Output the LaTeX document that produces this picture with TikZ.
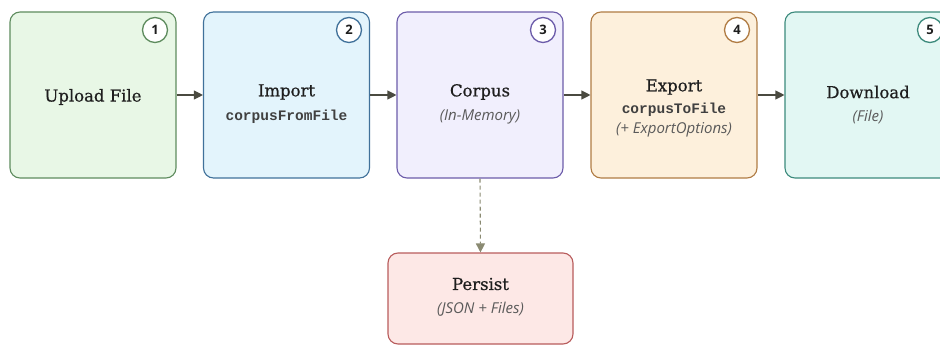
\documentclass[tikz,border=0pt]{standalone}
\usepackage{fontspec}
\setmainfont{DejaVu Serif}
\newfontfamily\titlefont[FakeBold=0.6]{DejaVu Serif}
\newfontfamily\codefont{Liberation Mono}
\newfontfamily\notefont{Open Sans}
\newfontfamily\badgefont{Open Sans}
\usetikzlibrary{arrows.meta}
\definecolor{ink}{HTML}{1E1E1E}
\definecolor{notegray}{HTML}{5A5A5A}
\definecolor{arrowgray}{HTML}{4A4A40}
\definecolor{dashgray}{HTML}{8A8A72}
\definecolor{gFill}{HTML}{E8F7E6}\definecolor{gLine}{HTML}{5E8C5E}
\definecolor{bFill}{HTML}{E3F4FC}\definecolor{bLine}{HTML}{40719A}
\definecolor{pFill}{HTML}{F1EFFD}\definecolor{pLine}{HTML}{6C5CAA}
\definecolor{oFill}{HTML}{FDF0DC}\definecolor{oLine}{HTML}{B07C44}
\definecolor{tFill}{HTML}{E2F7F3}\definecolor{tLine}{HTML}{3C8A7C}
\definecolor{rFill}{HTML}{FDE8E6}\definecolor{rLine}{HTML}{B85C5C}
\tikzset{
  x=1pt, y=-1pt,
  stage/.style={draw, line width=1.1pt, rounded corners=10pt, minimum width=166pt, minimum height=166pt, inner sep=0pt},
  badge/.style={draw, circle, fill=white, line width=1.3pt, minimum size=25pt, inner sep=0pt, font=\badgefont\bfseries\fontsize{13}{13}\selectfont, text=ink},
  title/.style={font=\titlefont\fontsize{16.5}{18}\selectfont, text=ink},
  code/.style={font=\codefont\bfseries\fontsize{14.5}{16}\selectfont, text=ink!85},
  note/.style={font=\notefont\itshape\fontsize{15}{17}\selectfont, text=notegray},
  flow/.style={draw=arrowgray, line width=1.1pt, -{Triangle[length=9pt,width=9pt]}},
  store/.style={draw=dashgray, line width=1.1pt, dashed, dash pattern=on 4pt off 3pt, -{Triangle[length=9pt,width=9pt]}}
}
\begin{document}
\begin{tikzpicture}
\useasboundingbox (0,0) rectangle (940,345);
% pipeline stages
\node[stage, fill=gFill, draw=gLine] (upload) at (93,95) {};
\node[stage, fill=bFill, draw=bLine] (import) at (286.5,95) {};
\node[stage, fill=pFill, draw=pLine] (corpus) at (480,95) {};
\node[stage, fill=oFill, draw=oLine] (export) at (674,95) {};
\node[stage, fill=tFill, draw=tLine] (download) at (868,95) {};
\node[stage, fill=rFill, draw=rLine, minimum width=185pt, minimum height=91pt] (persist) at (480.5,298.5) {};
% stage numbers
\node[badge, draw=gLine] (n1) at (155,30) {1};
\node[badge, draw=bLine] (n2) at (349,30) {2};
\node[badge, draw=pLine] (n3) at (543,30) {3};
\node[badge, draw=oLine] (n4) at (737,30) {4};
\node[badge, draw=tLine] (n5) at (930,30) {5};
% labels
\node[title] (t1) at (93,97) {Upload File};
\node[title] (t2) at (286.5,92) {Import};
\node[code] (c2) at (286.5,117) {corpusFromFile};
\node[title] (t3) at (480,92) {Corpus};
\node[note] (s3) at (480,117) {(In-Memory)};
\node[title] (t4) at (674,87) {Export};
\node[code] (c4) at (674,110) {corpusToFile};
\node[note] (s4) at (674,130) {(+ ExportOptions)};
\node[title] (t5) at (868,92) {Download};
\node[note] (s5) at (868,117) {(File)};
\node[title] (t6) at (480.5,284) {Persist};
\node[note] (s6) at (480.5,309) {(JSON + Files)};
% connectors
\draw[flow] (upload.east) -- (import.west);
\draw[flow] (import.east) -- (corpus.west);
\draw[flow] (corpus.east) -- (export.west);
\draw[flow] (export.east) -- (download.west);
\draw[store] (corpus.south) -- (persist.north);
\end{tikzpicture}
\end{document}
